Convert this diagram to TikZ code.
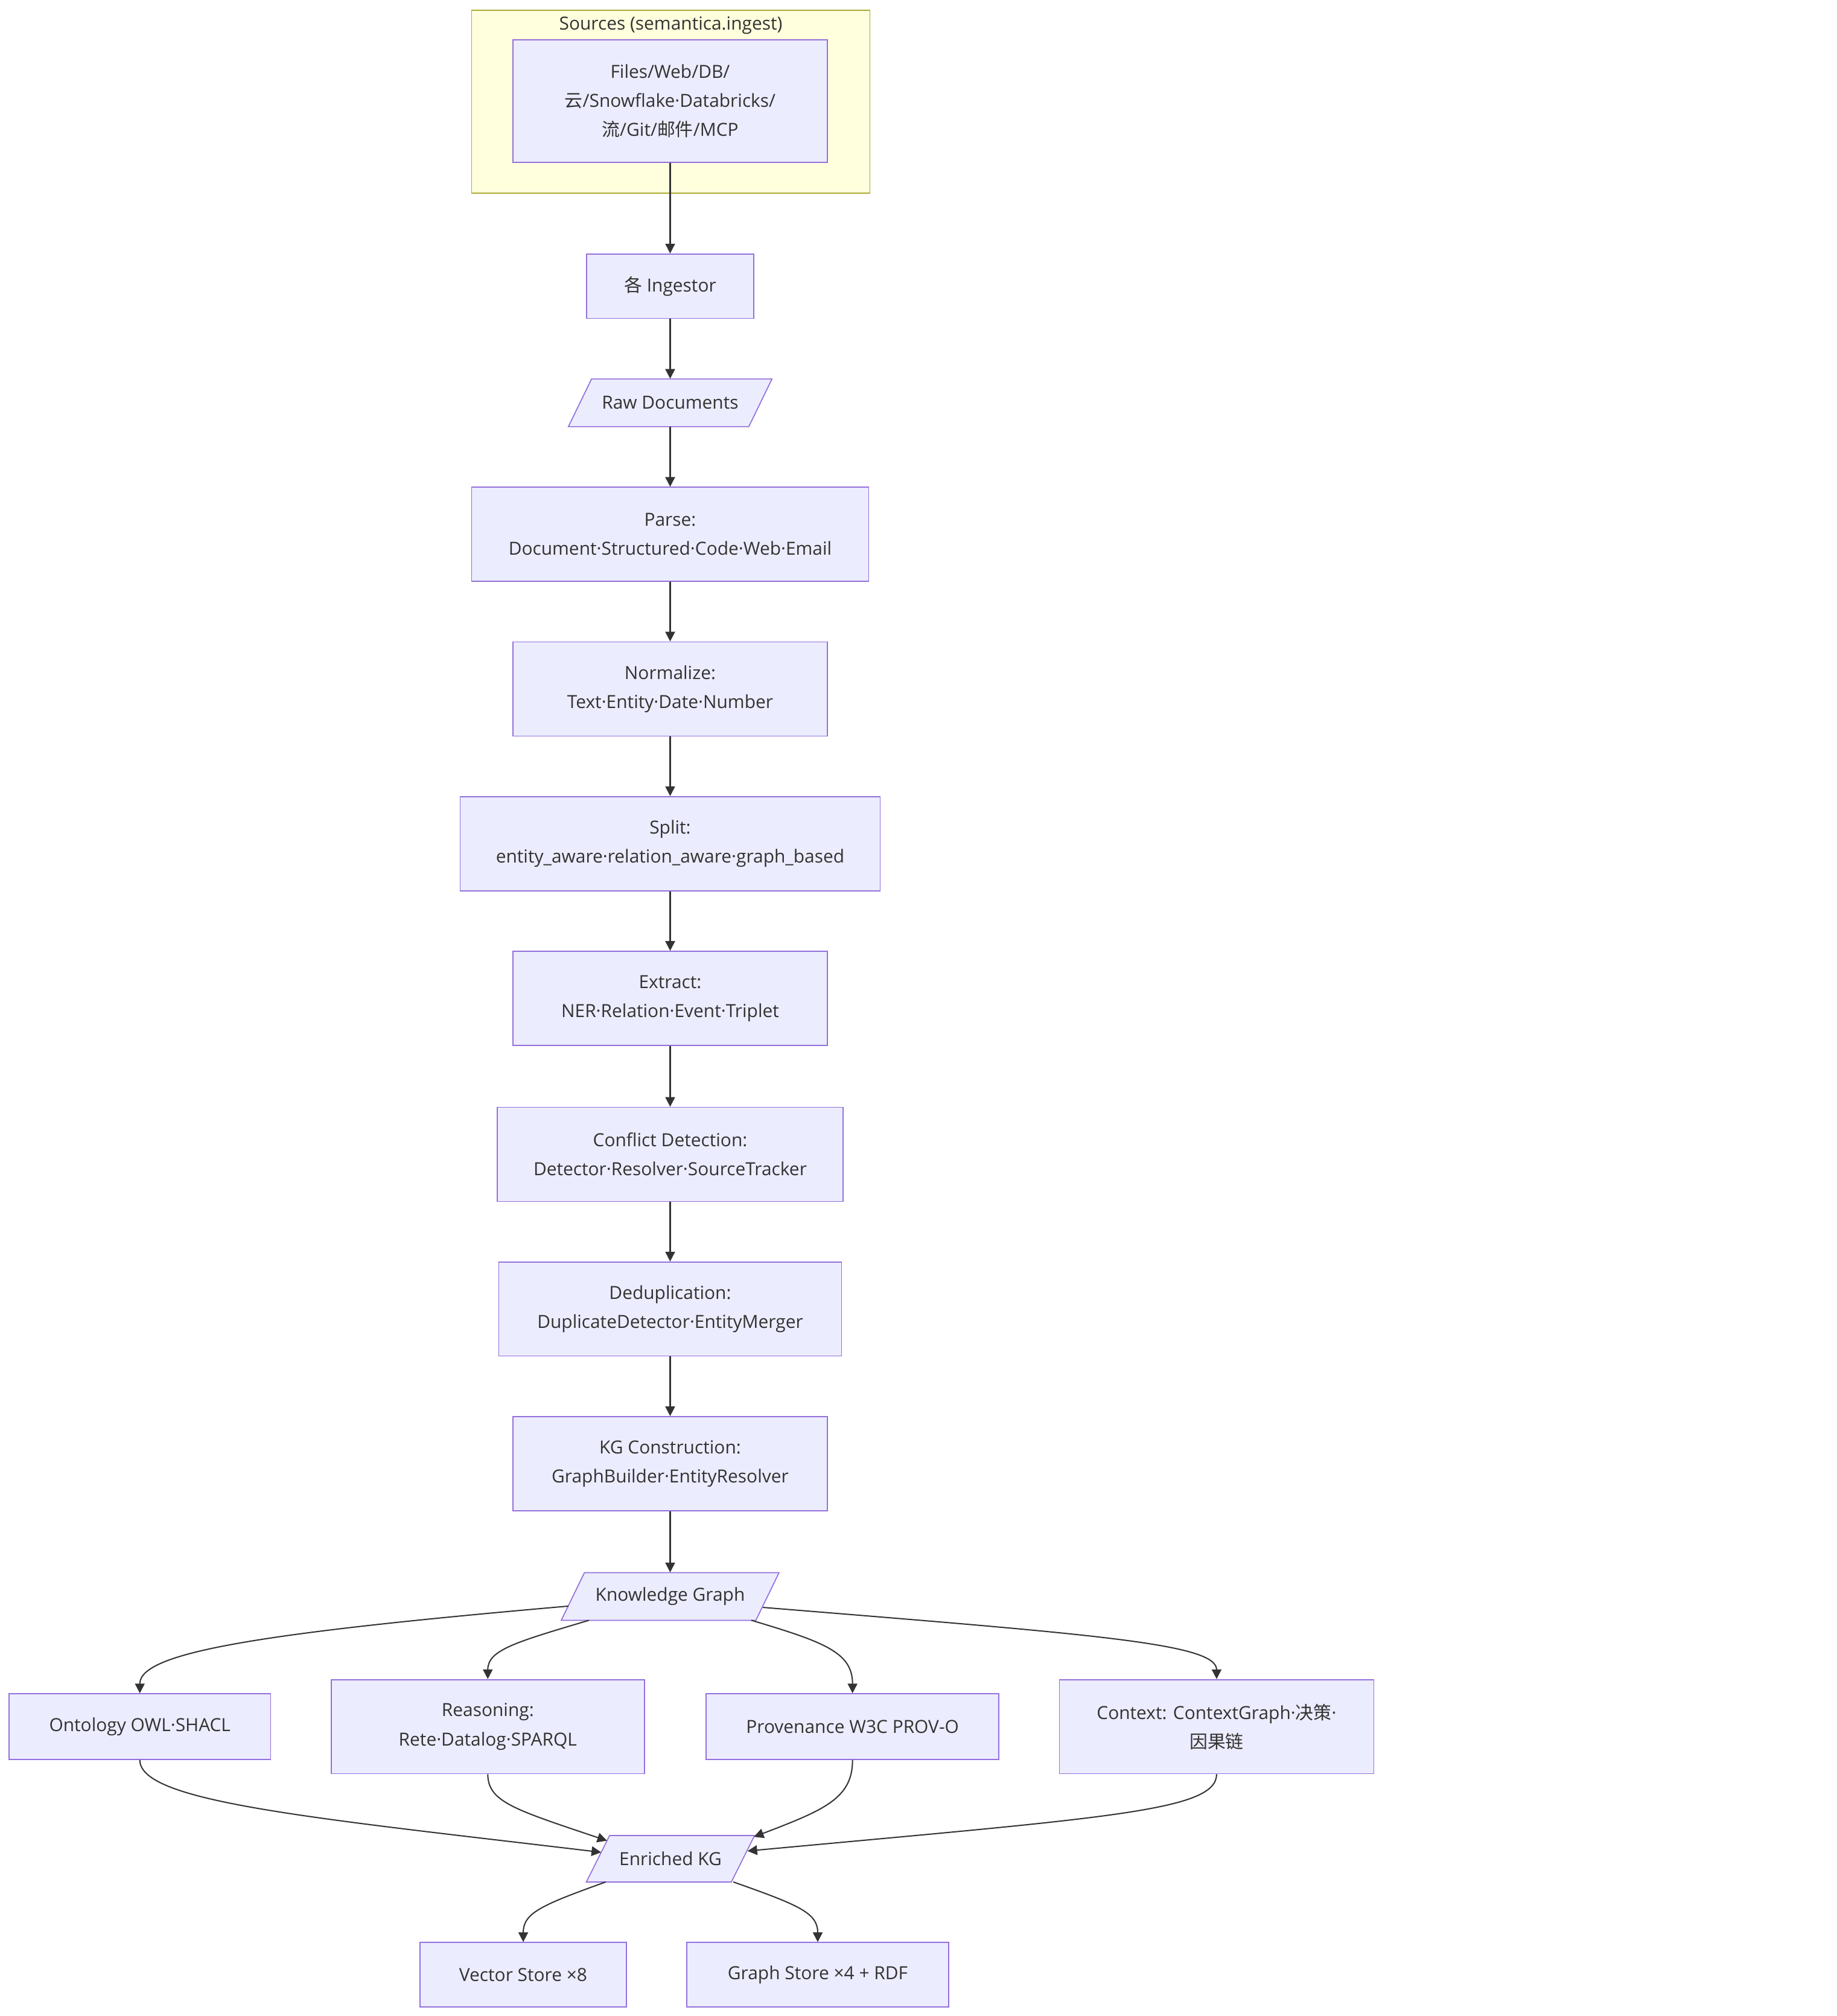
\documentclass[tikz,border=0pt]{standalone}
\usepackage{fontspec}
\setmainfont{Open Sans}
\newfontfamily\cjk{Noto Sans CJK SC}
\newcommand\zh[1]{{\cjk #1}}
\usetikzlibrary{arrows.meta,calc}
\definecolor{nodefill}{HTML}{ECECFF}
\definecolor{nodeline}{HTML}{9370DB}
\definecolor{clusterfill}{HTML}{FFFFDE}
\definecolor{clusterline}{HTML}{AAAA33}
\definecolor{edgecol}{HTML}{333333}
\definecolor{txt}{HTML}{333333}
\begin{document}
\begin{tikzpicture}[x=1pt,y=-1pt,
  font=\fontsize{14}{22.5}\selectfont, text=txt,
  box/.style={draw=nodeline, fill=nodefill, line width=0.8pt, inner sep=0pt, align=center},
  ptext/.style={inner sep=0pt, align=center},
  parashape/.style={draw=nodeline, fill=nodefill, line width=0.8pt, line join=miter},
  cluster/.style={draw=clusterline, fill=clusterfill, line width=0.8pt, inner sep=0pt},
  edge/.style={draw=edgecol, line width=0.95pt, -{Triangle[length=7.5pt,width=7.5pt]}},
]
\fill[white] (0,0) rectangle (1425,1564);
\useasboundingbox (0,0) rectangle (1425,1564);

% cluster
\node[cluster, minimum width=309, minimum height=142] (sources) at (520.5,79) {};
\node[ptext] (srctitle) at (520.5,19.5) {Sources (semantica.ingest)};
\node[box, minimum width=244, minimum height=95] (files) at (520,78.5)
  {Files/Web/DB/\\\zh{云}/Snowflake·Databricks/\\\zh{流}/Git/\zh{邮件}/MCP};

\node[box, minimum width=130, minimum height=50] (ingest) at (520,222) {\zh{各} Ingestor};

\filldraw[parashape] (441,331) -- (581,331) -- (599,294) -- (459,294) -- cycle;
\node[ptext, minimum width=140, minimum height=37] (raw) at (520,312.5) {Raw Documents};

\node[box, minimum width=308, minimum height=73] (parse) at (520,414.5) {Parse:\\Document·Structured·Code·Web·Email};
\node[box, minimum width=244, minimum height=73] (normalize) at (520,534.5) {Normalize:\\Text·Entity·Date·Number};
\node[box, minimum width=326, minimum height=73] (split) at (520,654.5) {Split:\\entity\_aware·relation\_aware·graph\_based};
\node[box, minimum width=244, minimum height=73] (extract) at (520,774.5) {Extract:\\NER·Relation·Event·Triplet};
\node[box, minimum width=268, minimum height=73] (conflict) at (520,895.5) {Conflict Detection:\\Detector·Resolver·SourceTracker};
\node[box, minimum width=266, minimum height=73] (dedup) at (520,1015.5) {Deduplication:\\DuplicateDetector·EntityMerger};
\node[box, minimum width=244, minimum height=73] (kgc) at (520,1135.5) {KG Construction:\\GraphBuilder·EntityResolver};

\filldraw[parashape] (435.5,1257) -- (586.5,1257) -- (604.5,1220) -- (453.5,1220) -- cycle;
\node[ptext, minimum width=151, minimum height=37] (kg) at (520,1238.5) {Knowledge Graph};

\node[box, minimum width=203, minimum height=51] (onto) at (108.5,1339.5) {Ontology OWL·SHACL};
\node[box, minimum width=243, minimum height=73] (reason) at (378.5,1339.5) {Reasoning:\\Rete·Datalog·SPARQL};
\node[box, minimum width=227, minimum height=51] (prov) at (661.5,1339.5) {Provenance W3C PROV-O};
\node[box, minimum width=244, minimum height=73] (ctx) at (944,1339.5) {Context: ContextGraph·\zh{决策}·\\\zh{因果链}};

\filldraw[parashape] (455,1460) -- (567.5,1460) -- (585.5,1424) -- (473,1424) -- cycle;
\node[ptext, minimum width=112.5, minimum height=36] (enriched) at (520.25,1442) {Enriched KG};

\node[box, minimum width=160, minimum height=50] (vector) at (406,1532) {Vector Store ×8};
\node[box, minimum width=203, minimum height=50] (graph) at (634.5,1532) {Graph Store ×4 + RDF};

% straight edges
\draw[edge] (files.south) -- (ingest.north);
\draw[edge] (ingest.south) -- (raw.north);
\draw[edge] (raw.south) -- (parse.north);
\draw[edge] (parse.south) -- (normalize.north);
\draw[edge] (normalize.south) -- (split.north);
\draw[edge] (split.south) -- (extract.north);
\draw[edge] (extract.south) -- (conflict.north);
\draw[edge] (conflict.south) -- (dedup.north);
\draw[edge] (dedup.south) -- (kgc.north);
\draw[edge] (kgc.south) -- (kg.north);

% fan out
\draw[edge] ($(kg.center)+(-79,7.5)$) .. controls (200,1267) and (108.5,1282) .. (onto.north);
\draw[edge] ($(kg.center)+(-63,18.5)$) .. controls (400,1274) and (378.5,1280) .. (reason.north);
\draw[edge] ($(kg.center)+(63,18.5)$) .. controls (640,1274) and (661.5,1282) .. (prov.north);
\draw[edge] ($(kg.center)+(72,8.5)$) .. controls (850,1268) and (944,1275) .. (ctx.north);

% fan in
\draw[edge] (onto.south) .. controls (108.5,1398) and (240,1410) .. ($(enriched.center)+(-53.75,-5)$);
\draw[edge] (reason.south) .. controls (378.5,1398) and (400,1404) .. ($(enriched.center)+(-49.25,-14)$);
\draw[edge] (prov.south) .. controls (661.5,1395) and (640,1404) .. ($(enriched.center)+(64.75,-17)$);
\draw[edge] (ctx.south) .. controls (944,1405) and (860,1410) .. ($(enriched.center)+(59.75,-6)$);

% stores
\draw[edge] ($(enriched.center)+(-50.25,18)$) .. controls (420,1478) and (406,1484) .. (vector.north);
\draw[edge] ($(enriched.center)+(48.75,18)$) .. controls (620,1478) and (634.5,1484) .. (graph.north);
\end{tikzpicture}
\end{document}
